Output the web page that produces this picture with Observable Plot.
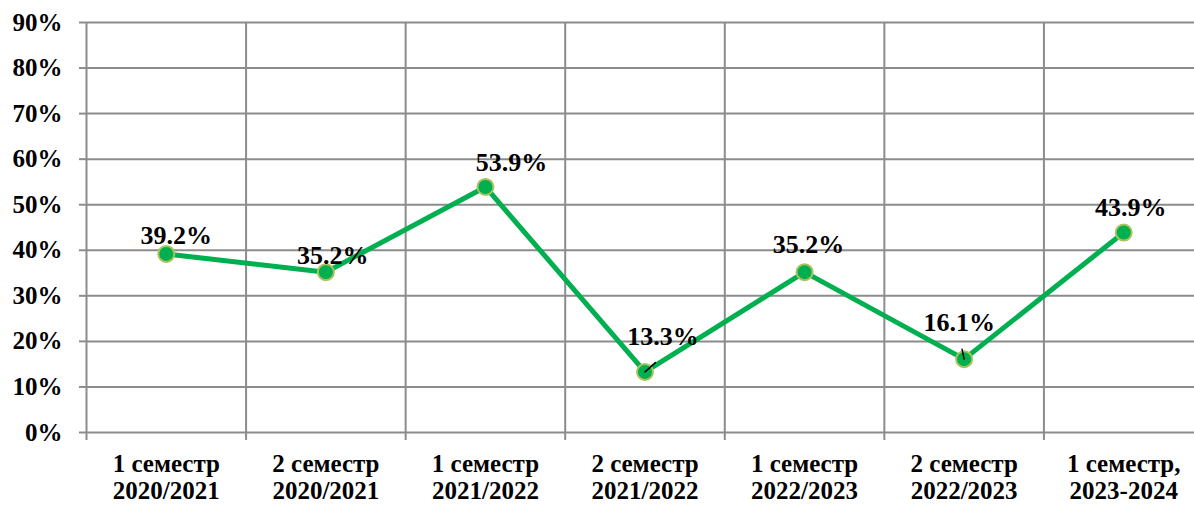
<!DOCTYPE html>
<html>
<head>
<meta charset="utf-8">
<script src="https://cdn.jsdelivr.net/npm/d3@7"></script>
<script src="https://cdn.jsdelivr.net/npm/@observablehq/plot@0.6"></script>
<style>
  html, body { margin: 0; padding: 0; background: white; overflow: hidden; }
  #chart svg { display: block; overflow: hidden; }
  #chart svg text { font-family: "Liberation Serif", "Times New Roman", serif !important; font-weight: bold; }
</style>
</head>
<body>
<div id="chart"></div>
<script>
const categories = [
  "1 семестр\n2020/2021",
  "2 семестр\n2020/2021",
  "1 семестр\n2021/2022",
  "2 семестр\n2021/2022",
  "1 семестр\n2022/2023",
  "2 семестр\n2022/2023",
  "1 семестр,\n2023-2024"
];
const values = [0.392, 0.352, 0.539, 0.133, 0.352, 0.161, 0.439];
const valueLabels = ["39.2%", "35.2%", "53.9%", "13.3%", "35.2%", "16.1%", "43.9%"];
const yTicks = [0, 0.1, 0.2, 0.3, 0.4, 0.5, 0.6, 0.7, 0.8, 0.9];

// label placement nudges (pixels), as in the original chart
const labelNudge = [[10, -18], [7, -16], [26, -24], [18, -35], [4, -27], [-5, -36], [7, -25]];
// leader lines for moved labels: [index, length px, angle deg]
const leaders = [[3, 25, 48], [5, 18, -12]];

const data = values.map((v, i) => ({i, pos: i + 0.5, v, label: valueLabels[i]}));
const boundaries = d3.range(categories.length + 1);
const centers = categories.map((c, i) => i + 0.5);

const grid = "#8c8c8c";
const font = "'Liberation Serif', 'Times New Roman', serif";

const labelMarks = data.map((d, k) =>
  Plot.text([d], {
    x: "pos", y: "v", text: "label",
    dx: labelNudge[k][0], dy: labelNudge[k][1],
    fontSize: 26, fontWeight: "bold", fontFamily: font, fill: "black"
  })
);

const leaderData = leaders.map(([i, len, ang]) => ({pos: i + 0.5, v: values[i], len, ang}));

const chart = Plot.plot({
  width: 1194,
  height: 506,
  marginTop: 22,
  marginBottom: 74,
  marginLeft: 86,
  marginRight: 0,
  style: {fontFamily: font, background: "white", overflow: "hidden"},
  x: {domain: [0, categories.length], range: [86, 1203]},
  y: {domain: [0, 0.9]},
  marks: [
    Plot.gridY(yTicks, {stroke: grid, strokeOpacity: 1, strokeWidth: 2}),
    Plot.gridX(boundaries, {stroke: grid, strokeOpacity: 1, strokeWidth: 2}),
    Plot.axisY(yTicks, {
      tickFormat: d3.format(".0%"), tickSize: 7, tickPadding: 17,
      stroke: grid, strokeWidth: 2, fill: "black", fontFamily: font,
      fontSize: 25, fontWeight: "bold", label: null
    }),
    Plot.axisX(boundaries, {
      tickFormat: () => "", tickSize: 8, stroke: grid, strokeWidth: 2, label: null
    }),
    Plot.axisX(centers, {
      tickFormat: d => categories[Math.floor(d)], tickSize: 0, tickPadding: 20,
      fill: "black", fontSize: 25, fontWeight: "bold", fontFamily: font, lineHeight: 1.08, label: null
    }),
    Plot.line(data, {x: "pos", y: "v", stroke: "#00b050", strokeWidth: 5}),
    Plot.dot(data, {x: "pos", y: "v", r: 8, fill: "#00b050", stroke: "#a9c25c", strokeWidth: 2}),
    Plot.vector(leaderData, {
      x: "pos", y: "v", length: "len", rotate: "ang", anchor: "start",
      stroke: "black", strokeWidth: 1.5,
      shape: {draw(context, l) { context.moveTo(0, 0); context.lineTo(0, -l); }}
    }),
    ...labelMarks
  ]
});

document.getElementById("chart").appendChild(chart);
</script>
</body>
</html>
